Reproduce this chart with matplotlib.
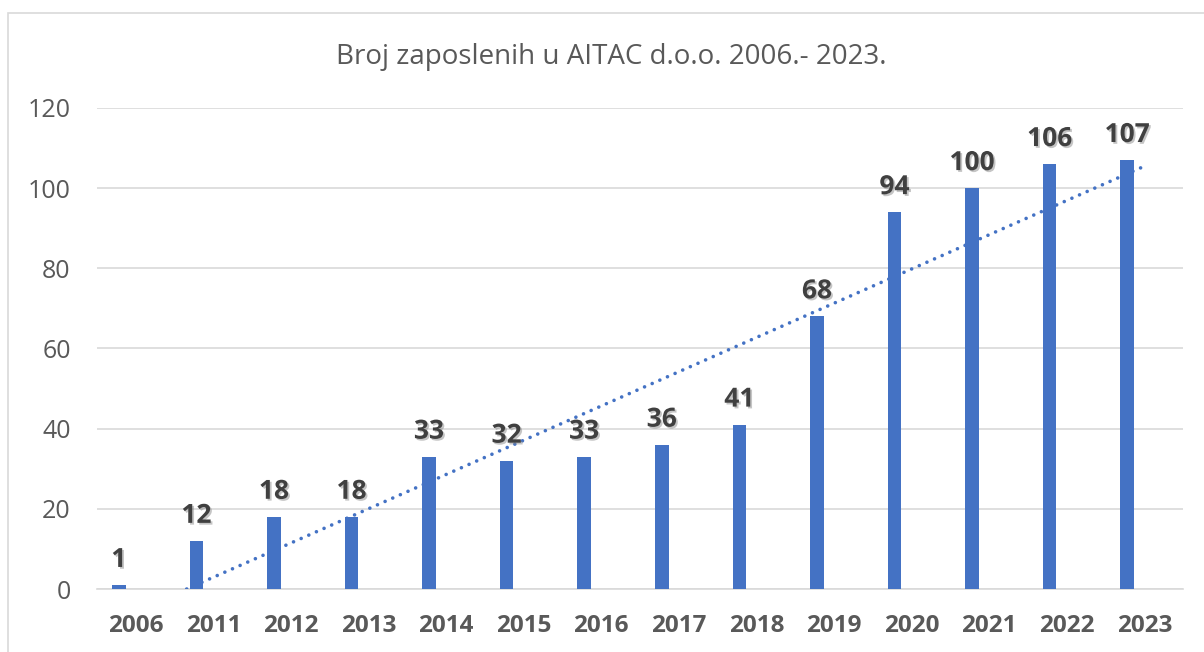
import numpy as np
import matplotlib
matplotlib.use("Agg")
import matplotlib.pyplot as plt
import matplotlib.patheffects as pe
from matplotlib.patches import Rectangle

# data
years = ["2006", "2011", "2012", "2013", "2014", "2015", "2016",
         "2017", "2018", "2019", "2020", "2021", "2022", "2023"]
employees = [1, 12, 18, 18, 33, 32, 33, 36, 41, 68, 94, 100, 106, 107]
y_ticks = [0, 20, 40, 60, 80, 100, 120]
title = "Broj zaposlenih u AITAC d.o.o. 2006.- 2023."

BAR_COLOR = "#4472C4"
TEXT_GRAY = "#595959"
GRID_GRAY = "#D9D9D9"
BAR_SHIFT = -0.22   # bars sit left of the category centre (empty 2nd series in excel)

plt.rcParams["font.family"] = ["Open Sans", "DejaVu Sans"]

fig = plt.figure(figsize=(12.04, 6.52), dpi=100)
ax = fig.add_axes([0.0806, 0.0966, 0.902, 0.7378])

x = np.arange(len(years))
ax.bar(x + BAR_SHIFT, employees, width=0.175, color=BAR_COLOR, zorder=3)

# linear trendline over category centres, clipped at 0
xs = x + 1
k, b = np.polyfit(xs, employees, 1)
tx = np.linspace(-b / k, xs[-1], 200)
ax.plot(tx - 1, k * tx + b, linestyle=(0, (0.01, 2.3)), color=BAR_COLOR,
        linewidth=2.6, dash_capstyle="round", zorder=4)

for xi, v in zip(x, employees):
    ax.annotate(str(v), (xi + BAR_SHIFT, v), xytext=(0, 13), textcoords="offset points",
                ha="center", va="baseline", fontsize=19, fontweight="bold",
                color="#404040", zorder=5,
                path_effects=[pe.withSimplePatchShadow(offset=(1.3, -1.3),
                                                       shadow_rgbFace="#7f7f7f", alpha=0.45)])

ax.set_xlim(-0.5, 13.5)
ax.set_ylim(0, 120)
ax.set_yticks(y_ticks)
ax.set_xticks(x)
ax.set_xticklabels(years, fontweight="bold", fontsize=17.5, color=TEXT_GRAY)
ax.tick_params(axis="y", labelsize=18, labelcolor=TEXT_GRAY, length=0, pad=19)
ax.tick_params(axis="x", length=0, pad=18)
ax.grid(axis="y", color=GRID_GRAY, linewidth=1.2, zorder=0)
for s in ["top", "right", "left"]:
    ax.spines[s].set_visible(False)
ax.spines["bottom"].set_color(GRID_GRAY)
ax.spines["bottom"].set_linewidth(1.2)

fig.text(0.5075, 0.9126, title, ha="center", va="center", fontsize=20, color=TEXT_GRAY)

# chart border
fig.patches.append(Rectangle((8 / 1204, -0.1), 1.2, 1.1 - 13 / 652,
                             transform=fig.transFigure, fill=False,
                             edgecolor=GRID_GRAY, linewidth=1.2))

fig.savefig("out.png", dpi=100)
